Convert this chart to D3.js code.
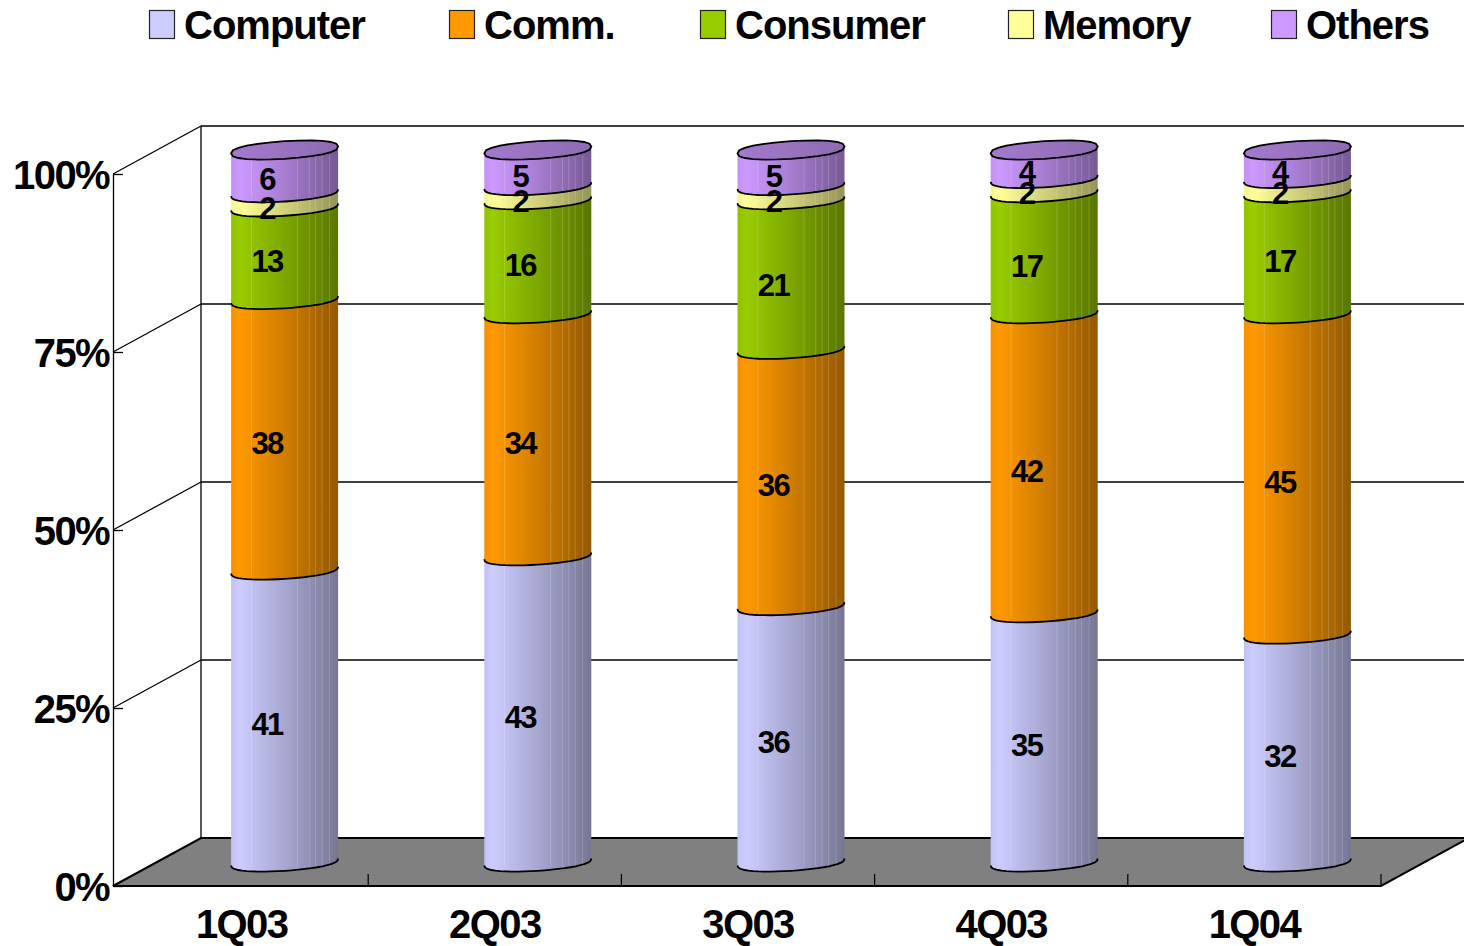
<!DOCTYPE html>
<html><head><meta charset="utf-8">
<script src="https://cdnjs.cloudflare.com/ajax/libs/d3/7.8.5/d3.min.js"></script>
<style>
html,body{margin:0;padding:0;background:#fff;overflow:hidden}
svg{display:block}
text{font-family:"Liberation Sans",Arial,sans-serif;font-weight:700;fill:#000}
</style></head><body>
<svg id="c" width="1464" height="946"></svg>
<script>
const categories = ["1Q03","2Q03","3Q03","4Q03","1Q04"];
const seriesNames = ["Computer","Comm.","Consumer","Memory","Others"];
const seriesColors = ["#CCCCFF","#FF9900","#99CC00","#FFFF99","#CC99FF"];
const computer = [41,43,36,35,32];
const comm = [38,34,36,42,45];
const consumer = [13,16,21,17,17];
const memory = [2,2,2,2,2];
const others = [6,5,5,4,4];
const yTicks = [0,25,50,75,100];
const seriesValues = [computer,comm,consumer,memory,others];

const svg = d3.select("#c");
const depthX = 88, depthY = 48, plotLeft = 113;
const x = d3.scaleBand().domain(categories).range([115,1381]).padding(0);
const y = d3.scaleLinear().domain([0,100]).range([886,174]);
const xRight = x.range()[1];
const defs = svg.append("defs");

// gradients
seriesColors.forEach((c,i)=>{
  const g = defs.append("linearGradient").attr("id","g"+i);
  const base = d3.rgb(c);
  const shade = k => d3.rgb(base.r*k,base.g*k,base.b*k).formatHex();
  [[0,.95],[.08,1],[.5,.82],[1,.58]].forEach(([o,k])=>
    g.append("stop").attr("offset",o).attr("stop-color",shade(k)));
  const t = defs.append("linearGradient").attr("id","t"+i);
  [[0,.8],[1,.7]].forEach(([o,k])=>
    t.append("stop").attr("offset",o).attr("stop-color",shade(k)));
});

// back walls
const back = svg.append("g").attr("fill","none").attr("stroke","#000").attr("stroke-width",1.3);
back.selectAll("line.grid").data(yTicks.slice(1)).join("line")
  .attr("x1",plotLeft+depthX).attr("x2",xRight+depthX)
  .attr("y1",d=>y(d)-depthY).attr("y2",d=>y(d)-depthY);
back.selectAll("line.wall").data(yTicks.slice(1)).join("line")
  .attr("x1",plotLeft).attr("x2",plotLeft+depthX)
  .attr("y1",d=>y(d)).attr("y2",d=>y(d)-depthY);
back.append("line").attr("x1",plotLeft+depthX).attr("x2",plotLeft+depthX)
  .attr("y1",y(100)-depthY).attr("y2",y(0)-depthY);

// floor
const floorPts = [[plotLeft,y(0)],[xRight,y(0)],[xRight+depthX,y(0)-depthY],[plotLeft+depthX,y(0)-depthY]];
svg.append("path").attr("d",d3.line()(floorPts)+"Z")
  .attr("fill","#808080").attr("stroke","#000").attr("stroke-width",2);

// separators on the floor
svg.append("g").selectAll("line").data(categories).join("line")
  .attr("x1",d=>x(d)+x.bandwidth()).attr("x2",d=>x(d)+x.bandwidth())
  .attr("y1",y(0)).attr("y2",y(0)-12)
  .attr("stroke","#000").attr("stroke-width",1.2);

// axes
const yAxis = svg.append("g").attr("transform",`translate(${plotLeft},0)`)
  .call(d3.axisLeft(y).tickValues(yTicks).tickFormat(d=>d+"%").tickSize(-10).tickSizeOuter(0).tickPadding(4));
yAxis.selectAll("path,line").attr("stroke","#000").attr("stroke-width",1.3);
yAxis.selectAll("text").attr("font-size",40).attr("letter-spacing",-1.6)
  .attr("font-family",null).attr("dy",14).attr("font-weight",700);
const xAxis = svg.append("g").attr("transform",`translate(0,${y(0)})`)
  .call(d3.axisBottom(x).tickSize(0).tickSizeOuter(0));
xAxis.select("path").attr("d",`M${plotLeft},0H${xRight}`).attr("stroke","#000").attr("stroke-width",2);
xAxis.selectAll("text").attr("font-size",40).attr("letter-spacing",-1.6)
  .attr("y",52).attr("dy",0).attr("font-family",null);

// cylinders
const rx = 53.5, ry = 8.8, slant = 3.4, N = 24;
const arc = (cx,cy,a0,a1)=>d3.range(N+1).map(i=>{
  const t = a0+(a1-a0)*i/N;
  const s = Math.sin(t);
  return [cx+rx*Math.cos(t), cy+ry*Math.sign(s)*Math.pow(Math.abs(s),.8)-slant*Math.cos(t)];
});
const line = d3.line();
const seams = [.19,.62,.73,.79,.85,.92];
const labelNudge = {"3-2":5,"2-2":3};
categories.forEach((cat,ci)=>{
  const cx = x(cat)+x.bandwidth()/2+43;
  const g = svg.append("g");
  const labels = [];
  let cum = 0;
  seriesValues.forEach((vals,si)=>{
    const v = vals[ci];
    const yb = y(cum)-depthY/2, yt = y(cum+v)-depthY/2;
    const front = arc(cx,yb,Math.PI,0);
    const rear = arc(cx,yt,0,-Math.PI);
    g.append("path").attr("d",line(front.concat(rear))+"Z").attr("fill",`url(#g${si})`);
    seams.forEach(f=>{
      const sx = cx-rx+2*rx*f;
      g.append("line").attr("x1",sx).attr("x2",sx)
        .attr("y1",yb+ry*0.6).attr("y2",yt+ry*0.6)
        .attr("stroke","#fff").attr("stroke-opacity",.18).attr("stroke-width",1);
    });
    g.append("path").attr("d",line(front)).attr("fill","none").attr("stroke","#000").attr("stroke-width",1.8);
    labels.push({v, yMid:(y(cum)+y(cum+v))/2-depthY/2+ry+(labelNudge[ci+"-"+si]||0)});
    cum += v;
    if(si===seriesValues.length-1){
      g.append("path").attr("d",line(arc(cx,yt,0,2*Math.PI))+"Z")
        .attr("fill",`url(#t${si})`).attr("stroke","#000").attr("stroke-width",1.8);
    }
  });
  g.selectAll("text").data(labels).join("text")
    .attr("x",cx-17.5).attr("y",d=>d.yMid+10)
    .attr("text-anchor","middle").attr("font-size",31).attr("letter-spacing",-1.6)
    .text(d=>d.v);
});

// legend
const legendX = [149,449,700,1008,1271];
const leg = svg.append("g").selectAll("g").data(seriesNames).join("g")
  .attr("transform",(d,i)=>`translate(${legendX[i]},0)`);
leg.append("rect").attr("x",.5).attr("y",10.5).attr("width",25).attr("height",28)
  .attr("fill",(d,i)=>seriesColors[i]).attr("stroke","#222").attr("stroke-width",1.2);
leg.append("text").attr("x",35).attr("y",39).attr("font-size",40).attr("letter-spacing",-1).text(d=>d);
</script>
</body></html>
